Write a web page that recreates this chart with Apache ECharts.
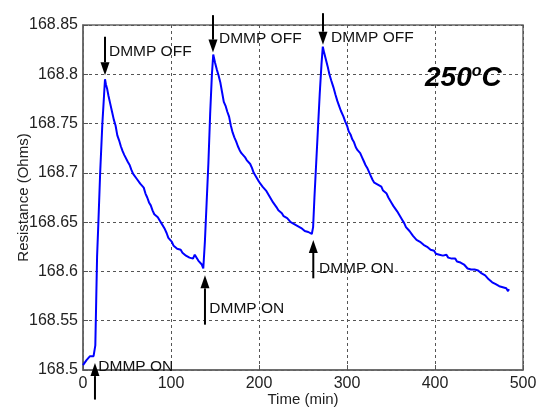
<!DOCTYPE html>
<html>
<head>
<meta charset="utf-8">
<script src="https://cdn.jsdelivr.net/npm/echarts@6/dist/echarts.min.js"></script>
<style>
html,body{margin:0;padding:0;background:#fff;}
#c{width:537px;height:410px;}
</style>
</head>
<body>
<div id="c"></div>
<script>
// ---- data ----
const timeMin = [
  0,2,4,6,8,10,12,13.5,
  14,15,16,17.5,19.5,22,24,25,
  26,27.5,29,31,33,35,37,39,41,43,45,47,49,51,53,55,57,59,61,63,65,67,69,71,73,75,77,79,81,83,85,87,89,91,93,95,97,99,101,103,105,107,109,111,113,115,117,119,121,123,125,127,129,131,133,135,136.7,
  137.5,138.5,140.5,142.5,144.5,146.5,148,
  150,152,154,156,158,160,162,164,166,168,170,172,174,176,178,180,182,184,186,188,190,192,194,196,198,200,202,204,206,208,210,212,214,216,218,220,222,224,226,228,230,232,234,236,238,240,242,244,246,248,250,252,254,256,258,260,
  261.5,263,265,267,269,271,272.5,
  274,276,278,280,282,284.5,287,289,291,293,296,298,300,302,304,306,308,310,312,315,317,319,321,323,325,327,329,331,333,335,337,339,341,343,345,347,349,351,353,355,357,359,361,363,365,367,369,371,373,375,377,379,381,383,385,387,389,391,393,395,397,399,401,403,405,407,409,411,413,415,417,419,421,423,425,427,429,431,433,435,437,439,441,443,445,447,449,451,453,455,457,459,461,463,465,467,469,471,473,475,477,479,481,483,484
];
const resistance = [
  168.505,168.507,168.510,168.512,168.514,168.515,168.514,168.516,
  168.525,168.570,168.615,168.650,168.700,168.750,168.780,168.795,
  168.790,168.785,168.778,168.770,168.762,168.754,168.748,168.738,168.733,168.727,168.722,168.718,168.716,168.711,168.708,168.703,168.699,168.697,168.694,168.693,168.689,168.688,168.685,168.679,168.675,168.670,168.667,168.662,168.658,168.656,168.655,168.652,168.649,168.648,168.643,168.639,168.634,168.632,168.630,168.626,168.624,168.623,168.621,168.622,168.619,168.619,168.616,168.617,168.614,168.615,168.613,168.617,168.616,168.611,168.609,168.607,168.603,
  168.605,168.630,168.670,168.710,168.760,168.800,168.820,
  168.812,168.805,168.799,168.792,168.782,168.772,168.768,168.762,168.757,168.748,168.741,168.736,168.732,168.727,168.723,168.720,168.718,168.716,168.713,168.712,168.709,168.705,168.700,168.697,168.694,168.691,168.689,168.686,168.685,168.682,168.680,168.676,168.673,168.670,168.668,168.665,168.662,168.660,168.659,168.656,168.656,168.654,168.653,168.650,168.652,168.648,168.649,168.646,168.647,168.644,168.645,168.641,168.643,168.640,168.642,168.638,
  168.645,168.675,168.710,168.745,168.780,168.810,168.828,
  168.822,168.815,168.808,168.800,168.794,168.787,168.779,168.773,168.768,168.763,168.757,168.752,168.748,168.742,168.739,168.734,168.731,168.726,168.723,168.720,168.716,168.712,168.708,168.705,168.701,168.697,168.693,168.690,168.689,168.688,168.686,168.686,168.682,168.680,168.679,168.675,168.672,168.669,168.666,168.664,168.661,168.658,168.656,168.652,168.649,168.645,168.643,168.641,168.640,168.636,168.634,168.632,168.633,168.630,168.629,168.627,168.628,168.625,168.623,168.622,168.620,168.621,168.618,168.619,168.617,168.619,168.616,168.618,168.617,168.614,168.615,168.613,168.612,168.613,168.610,168.611,168.609,168.607,168.607,168.605,168.603,168.604,168.602,168.601,168.602,168.600,168.601,168.599,168.598,168.598,168.596,168.595,168.592,168.591,168.589,168.590,168.587,168.587,168.585,168.586,168.584,168.582,168.583,168.580,168.582
];
const xTicks = { min: 0, max: 500, interval: 100 };
const yTicks = { min: 168.5, max: 168.85, interval: 0.05 };

// annotations (data units)
const annX     = [25, 147.7, 272.7, 13.6, 138.6, 261.7];
const annTail  = [168.838, 168.860, 168.862, 168.470, 168.546, 168.593];
const annTip   = [168.799, 168.822, 168.830, 168.507, 168.596, 168.632];
const annTextX = [29.5, 154.5, 281.8, 17.4, 143.5, 268.2];
const annTextY = [168.823, 168.836, 168.837, 168.503, 168.562, 168.603];
const annText  = ['DMMP OFF','DMMP OFF','DMMP OFF','DMMP ON','DMMP ON','DMMP ON'];
const tempLabel = '250';

const FONT = '"Liberation Sans", Arial, Helvetica, sans-serif';
const chart = echarts.init(document.getElementById('c'));
const lineData = timeMin.map((t, i) => [t, resistance[i]]);
const annData = annX.map((x, i) => [x, annTail[i], annTip[i], annTextX[i], annTextY[i]]);

chart.setOption({
  animation: false,
  backgroundColor: '#fff',
  title: {
    text: '{n|' + tempLabel + '}{s|o}{n|C}',
    left: 420, top: 58,
    textStyle: {
      rich: {
        n: { fontFamily: FONT, fontSize: 28, fontWeight: 'bold', fontStyle: 'italic', color: '#000', lineHeight: 30 },
        s: { fontFamily: FONT, fontSize: 16, fontWeight: 'bold', fontStyle: 'italic', color: '#000', lineHeight: 30, padding: [0, 0, 12, 0] }
      }
    }
  },
  grid: { left: 83, right: 14, top: 25, bottom: 40, show: true, borderColor: '#666', borderWidth: 1.5, containLabel: false, outerBoundsMode: 'none' },
  xAxis: {
    type: 'value', min: xTicks.min, max: xTicks.max, interval: xTicks.interval,
    name: 'Time (min)', nameLocation: 'middle', nameGap: 22, nameMoveOverlap: false,
    nameTextStyle: { fontFamily: FONT, fontSize: 15, color: '#222' },
    axisLine: { show: true, lineStyle: { color: '#666', width: 1.5 } },
    axisTick: { show: true, inside: true, length: 5, lineStyle: { color: '#555' } },
    axisLabel: { fontFamily: FONT, fontSize: 16, color: '#222', margin: 6 },
    splitLine: { show: true, lineStyle: { color: '#555', type: [3, 3], width: 1 } }
  },
  yAxis: {
    type: 'value', min: yTicks.min, max: yTicks.max, interval: yTicks.interval,
    name: 'Resistance (Ohms)', nameLocation: 'middle', nameGap: 52, nameMoveOverlap: false,
    nameTextStyle: { fontFamily: FONT, fontSize: 15, color: '#222' },
    axisLine: { show: true, lineStyle: { color: '#666', width: 1.5 } },
    axisTick: { show: true, inside: true, length: 5, lineStyle: { color: '#555' } },
    axisLabel: { fontFamily: FONT, fontSize: 16, color: '#222', margin: 5,
      formatter: v => String(parseFloat(v.toFixed(2))) },
    splitLine: { show: true, lineStyle: { color: '#555', type: [3, 3], width: 1 } }
  },
  series: [
    {
      type: 'line', data: lineData, showSymbol: false, symbol: 'none',
      lineStyle: { color: '#0000ff', width: 2 }, z: 3
    },
    {
      type: 'custom', data: annData, clip: false, z: 5,
      encode: { x: 0, y: 1 },
      renderItem: function (params, api) {
        const i = params.dataIndex;
        const tail = api.coord([api.value(0), api.value(1)]);
        const tip = api.coord([api.value(0), api.value(2)]);
        const tp = api.coord([api.value(3), api.value(4)]);
        const dir = tip[1] > tail[1] ? 1 : -1;
        const headH = 13, headW = 4.5;
        const base = tip[1] - dir * headH;
        return {
          type: 'group',
          children: [
            { type: 'line', shape: { x1: tail[0], y1: tail[1], x2: tip[0], y2: base }, style: { stroke: '#000', lineWidth: 2 } },
            { type: 'polygon', shape: { points: [[tip[0], tip[1]], [tip[0] - headW, base], [tip[0] + headW, base]] }, style: { fill: '#000' } },
            { type: 'text', x: tp[0], y: tp[1], style: { text: annText[i], font: '15.5px ' + FONT, fill: '#111', textAlign: 'left', textVerticalAlign: 'middle' } }
          ]
        };
      }
    }
  ]
});
</script>
</body>
</html>
